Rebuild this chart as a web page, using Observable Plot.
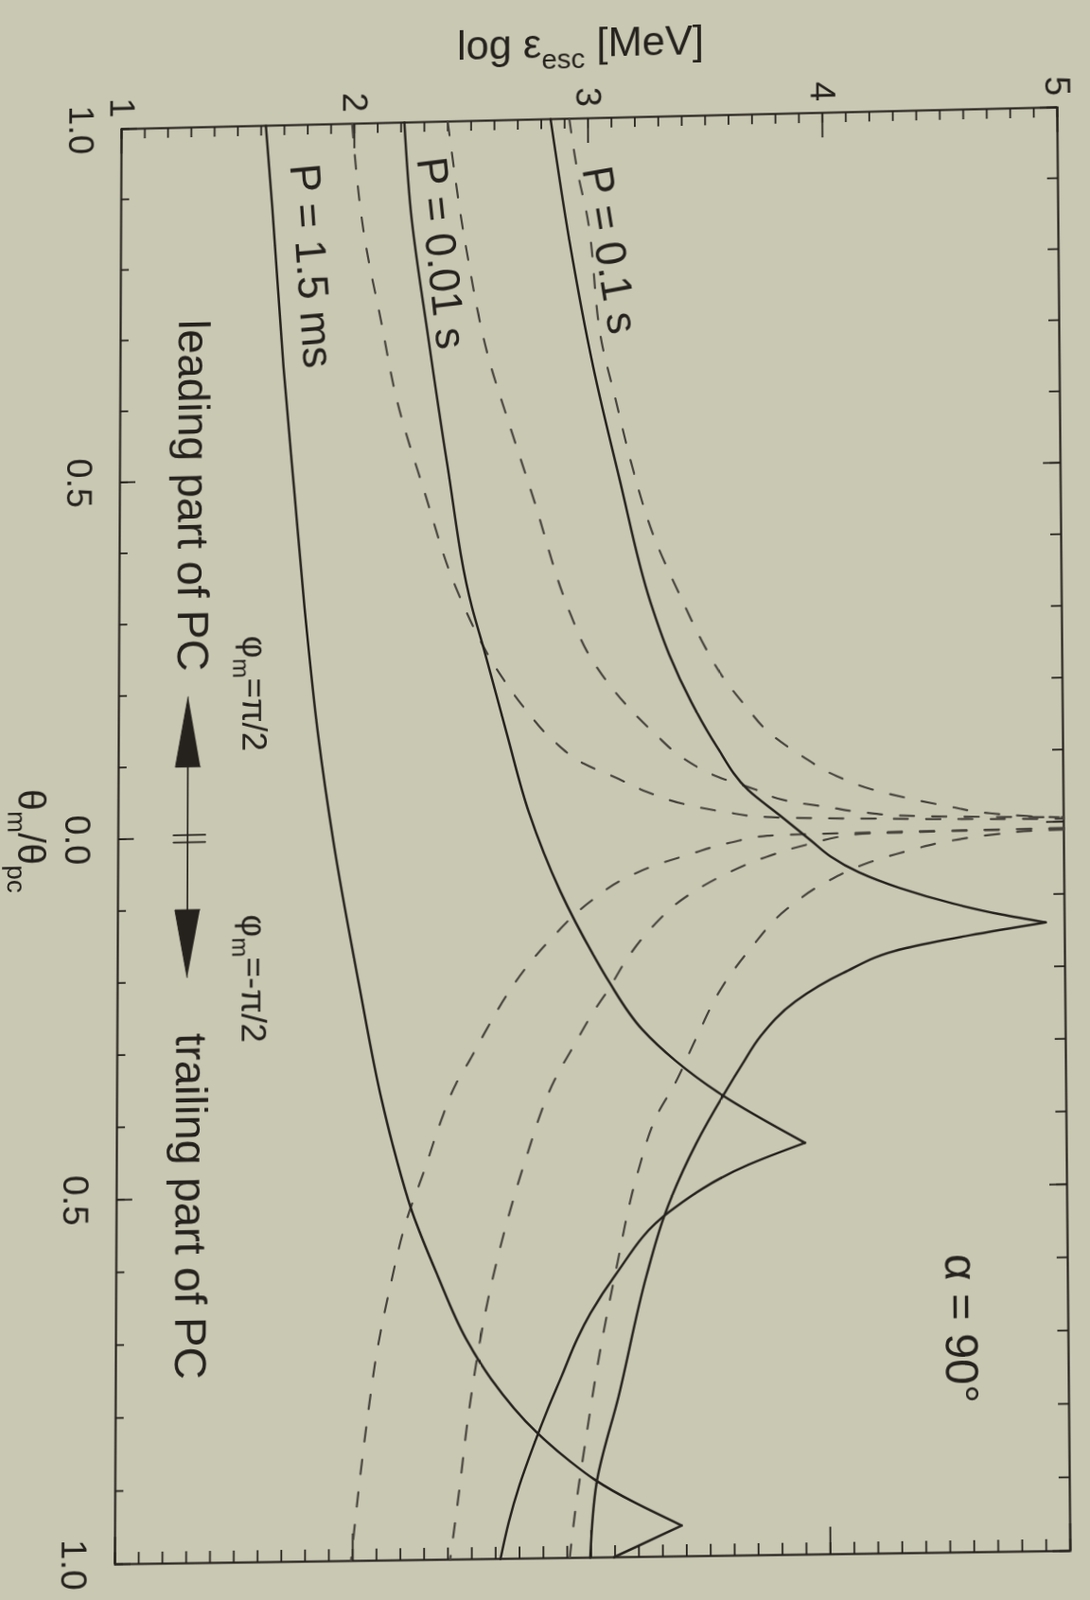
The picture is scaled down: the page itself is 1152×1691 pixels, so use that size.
<!DOCTYPE html>
<html><head><meta charset="utf-8">
<script src="https://cdn.jsdelivr.net/npm/d3@7"></script>
<script src="https://cdn.jsdelivr.net/npm/@observablehq/plot@0.6"></script>
<style>
html,body{margin:0;padding:0;background:#c9c8b3;overflow:hidden;}
#chart{position:absolute;left:0;top:0;}
#chart svg{display:block;}
</style></head><body><div id="chart"></div>
<script>
// ---------- data: [theta_m/theta_pc (signed: - leading, + trailing), log eps_esc] ----------
const P15_lead = [[-1,1.62],[-0.882,1.649],[-0.658,1.698],[-0.480,1.746],[-0.319,1.79],[-0.142,1.848],[0.012,1.916],[0.210,2.025],[0.368,2.12],[0.428,2.165],[0.524,2.25],[0.611,2.356],[0.698,2.475],[0.754,2.581],[0.828,2.772],[0.868,2.911],[0.894,3.016],[0.958,3.379]];
const P15_trail = [[0.958,3.379],[1.0,3.095]];
const P001_lead = [[-1,2.214],[-0.877,2.241],[-0.696,2.316],[-0.519,2.396],[-0.314,2.503],[-0.257,2.552],[-0.137,2.65],[-0.027,2.743],[0.084,2.876],[0.177,3.022],[0.211,3.082],[0.277,3.22],[0.321,3.36],[0.366,3.54],[0.437,3.903]];
const P001_trail = [[0.437,3.903],[0.466,3.664],[0.529,3.331],[0.614,3.105],[0.666,3.0],[0.70,2.945],[0.75,2.88],[0.80,2.815],[0.85,2.755],[0.90,2.70],[0.95,2.655],[1.0,2.62]];
const P01_lead = [[-1,2.84],[-0.826,2.92],[-0.648,3.02],[-0.491,3.13],[-0.317,3.26],[-0.243,3.339],[-0.176,3.432],[-0.114,3.538],[-0.052,3.671],[-0.016,3.804],[0.020,3.936],[0.042,4.016],[0.065,4.136],[0.088,4.309],[0.111,4.535],[0.127,4.734],[0.139,4.92]];
const P01_trail = [[0.139,4.92],[0.155,4.60],[0.171,4.333],[0.204,4.067],[0.242,3.866],[0.289,3.719],[0.328,3.64],[0.362,3.575],[0.436,3.445],[0.535,3.31],[0.616,3.235],[0.780,3.117],[0.899,3.023],[1.0,2.996]];

const D1 = [[-1,1.99],[-0.834,2.046],[-0.721,2.114],[-0.610,2.181],[-0.476,2.302],[-0.341,2.436],[-0.226,2.61],[-0.170,2.73],[-0.125,2.85],[-0.093,2.977],[-0.073,3.11],[-0.052,3.244],[-0.034,3.403],[-0.022,3.576],[-0.014,3.75],[-0.009,4.2],[-0.006,4.6],[-0.004,5.0]];
const D2 = [[-1,2.40],[-0.817,2.48],[-0.664,2.574],[-0.566,2.666],[-0.472,2.758],[-0.303,2.92],[-0.250,2.99],[-0.212,3.064],[-0.171,3.164],[-0.133,3.277],[-0.098,3.397],[-0.071,3.544],[-0.054,3.69],[-0.035,3.85],[-0.026,4.01],[-0.017,4.18],[-0.012,4.35],[-0.006,5.0]];
const D3 = [[-1,2.92],[-0.916,2.96],[-0.871,2.99],[-0.675,3.061],[-0.603,3.114],[-0.513,3.18],[-0.410,3.274],[-0.320,3.393],[-0.264,3.473],[-0.210,3.566],[-0.170,3.659],[-0.130,3.765],[-0.098,3.898],[-0.069,4.045],[-0.050,4.19],[-0.036,4.351],[-0.024,4.518],[-0.014,4.677],[-0.009,4.83],[-0.006,4.98]];
const D4 = [[0.009,5.0],[0.010,4.2],[0.012,3.75],[0.020,3.603],[0.035,3.43],[0.051,3.269],[0.072,3.122],[0.094,3.022],[0.111,2.955],[0.145,2.849],[0.184,2.742],[0.226,2.649],[0.270,2.569],[0.317,2.489],[0.347,2.435],[0.400,2.369],[0.464,2.303],[0.537,2.223],[0.625,2.157],[0.709,2.104],[0.796,2.065],[0.902,2.025],[1.0,1.993]];
const D5 = [[0.009,5.0],[0.010,4.6],[0.012,4.136],[0.024,3.936],[0.041,3.749],[0.066,3.562],[0.096,3.40],[0.134,3.268],[0.177,3.161],[0.220,3.08],[0.254,3.01],[0.293,2.94],[0.345,2.85],[0.453,2.728],[0.540,2.648],[0.627,2.581],[0.798,2.488],[0.904,2.448],[1.0,2.409]];
const D6 = [[0.011,5.0],[0.012,4.87],[0.016,4.708],[0.023,4.535],[0.035,4.362],[0.052,4.176],[0.077,4.002],[0.115,3.828],[0.167,3.68],[0.219,3.56],[0.292,3.445],[0.357,3.35],[0.390,3.29],[0.476,3.198],[0.606,3.108],[0.735,3.03],[0.842,2.977],[0.928,2.937],[1.0,2.91]];

// axes
const xMajor = [1,2,3,4,5];
const xTickLabels = ["1","2","3","4","5"];
const yMajor = [-1,-0.5,0,0.5,1];
const yTickLabels = ["1.0","0.5","0.0","0.5","1.0"];
const xMinor = d3.range(1,5.0001,0.1).map(v=>+v.toFixed(2));
const yMinor = d3.range(-1,1.0001,0.1).map(v=>+v.toFixed(2));
const titleX = "log ε_{esc} [MeV]";
const titleY = "θ_{m}/θ_{pc}";

// annotations
const curveLabels = ["P = 1.5 ms","P = 0.01 s","P = 0.1 s"];
const curveLabelE = [1.814, 2.37, 3.09];
const curveLabelT = [-0.80, -0.814, -0.813];
const sideLabels = ["leading part of PC","trailing part of PC"];
const sideLabelE = [1.31, 1.31];
const sideLabelT = [-0.48, 0.51];
const phiLabels = ["φ_{m}=π/2","φ_{m}=-π/2"];
const phiLabelE = [1.575, 1.575];
const phiLabelT = [-0.20, 0.197];
const alphaLabel = "α = 90°";
const alphaE = 4.55, alphaT = 0.695;
// arrow (theta, log eps)
const arrowShaft = [[-0.10,1.295],[0.10,1.295]];
const arrowHeadUp = [[-0.197,1.295],[-0.099,1.242],[-0.099,1.348]];
const arrowHeadDown = [[0.194,1.295],[0.10,1.242],[0.10,1.348]];
const arrowBars = [[[-0.004,1.235],[-0.004,1.37]],[[0.006,1.235],[0.006,1.37]]];

// ---------- build tables ----------
function rows(arr, seg){ return arr.map(([t,e])=>({t,e,seg})); }
const solid = [
  ...rows(P15_lead,"P15a"),...rows(P15_trail,"P15b"),
  ...rows(P001_lead,"P001a"),...rows(P001_trail,"P001b"),
  ...rows(P01_lead,"P01a"),...rows(P01_trail,"P01b")];
const dashed = [...rows(D1,"D1"),...rows(D2,"D2"),...rows(D3,"D3"),...rows(D4,"D4"),...rows(D5,"D5"),...rows(D6,"D6")];
const heads = [...rows(arrowHeadUp,"up"),...rows(arrowHeadDown,"down")];
const bars = arrowBars.flatMap((b,i)=>rows(b,"b"+i));

// ---------- layout ----------
const W=1152, H=1691;
const mL=125, mR=28, mT=125, mB=45;
const fw = W-mL-mR, fh = H-mT-mB;
const INK="#25211d", DASH="#47433d";
const FONT="'Liberation Sans', Arial, Helvetica, sans-serif";
const txt = {textAnchor: "middle", lineAnchor: "middle", fill: INK};

const plot = Plot.plot({
  width: W, height: H,
  marginLeft: mL, marginRight: mR, marginTop: mT, marginBottom: mB,
  style: {background: "none", color: INK, fontFamily: FONT},
  x: {domain: [1,5], axis: null},
  y: {domain: [-1,1], reverse: true, axis: null},
  marks: [
    // ticks (inward)
    Plot.tickX(xMinor, {x: d=>d, insetBottom: fh-11, stroke: INK, strokeWidth: 1.8}),
    Plot.tickX(xMajor, {x: d=>d, insetBottom: fh-27, stroke: INK, strokeWidth: 1.8}),
    Plot.tickX(xMinor, {x: d=>d, insetTop: fh-12, stroke: INK, strokeWidth: 1.8}),
    Plot.tickX(xMajor, {x: d=>d, insetTop: fh-28, stroke: INK, strokeWidth: 1.8}),
    Plot.tickY(yMinor, {y: d=>d, insetRight: fw-9, stroke: INK, strokeWidth: 1.8}),
    Plot.tickY(yMajor, {y: d=>d, insetRight: fw-17, stroke: INK, strokeWidth: 1.8}),
    Plot.tickY(yMinor, {y: d=>d, insetLeft: fw-11, stroke: INK, strokeWidth: 1.8}),
    Plot.tickY(yMajor, {y: d=>d, insetLeft: fw-18, stroke: INK, strokeWidth: 1.8}),
    Plot.frame({stroke: INK, strokeWidth: 2.2}),
    // tick labels
    Plot.text(xTickLabels, {x: (d,i)=>xMajor[i], text: d=>d, frameAnchor: "top", dy: -23, rotate: 90, fontSize: 38, ...txt}),
    Plot.text(yTickLabels, {y: (d,i)=>yMajor[i], text: d=>d, frameAnchor: "left", dx: -44, rotate: 90, fontSize: 38, ...txt}),
    // axis titles
    Plot.text([titleX], {text: d=>d, frameAnchor: "top", dy: -81, dx: -8, fontSize: 44, ...txt}),
    Plot.text([titleY], {text: d=>d, frameAnchor: "left", dx: -93, rotate: 90, fontSize: 41, ...txt}),
    // curves
    Plot.line(dashed, {x: "e", y: "t", z: "seg", stroke: DASH, strokeWidth: 2.2, strokeDasharray: "15,19", curve: "monotone-y"}),
    Plot.line(solid, {x: "e", y: "t", z: "seg", stroke: INK, strokeWidth: 2.5, curve: "monotone-y"}),
    // arrow
    Plot.line(rows(arrowShaft,"s"), {x: "e", y: "t", stroke: INK, strokeWidth: 1.7}),
    Plot.line(heads, {x: "e", y: "t", z: "seg", fill: INK, stroke: INK, strokeWidth: 1}),
    Plot.line(bars, {x: "e", y: "t", z: "seg", stroke: INK, strokeWidth: 1.7}),
    // annotations
    Plot.text([curveLabels[0]], {x: curveLabelE[0], y: curveLabelT[0], text: d=>d, rotate: 86, fontSize: 46, ...txt}),
    Plot.text([curveLabels[1]], {x: curveLabelE[1], y: curveLabelT[1], text: d=>d, rotate: 84, fontSize: 46, ...txt}),
    Plot.text([curveLabels[2]], {x: curveLabelE[2], y: curveLabelT[2], text: d=>d, rotate: 81, fontSize: 46, ...txt}),
    Plot.text(sideLabels, {x: (d,i)=>sideLabelE[i], y: (d,i)=>sideLabelT[i], text: d=>d, rotate: 90, fontSize: 47, ...txt}),
    Plot.text(phiLabels, {x: (d,i)=>phiLabelE[i], y: (d,i)=>phiLabelT[i], text: d=>d, rotate: 90, fontSize: 37, ...txt}),
    Plot.text([alphaLabel], {x: alphaE, y: alphaT, text: d=>d, rotate: 90, fontSize: 48, ...txt})
  ]
});

document.getElementById("chart").appendChild(plot);

// subscripts: turn "_{...}" into lowered, smaller tspans
plot.querySelectorAll("text").forEach(el => {
  const s = el.textContent;
  if (!s.includes("_{")) return;
  const fs = parseFloat(getComputedStyle(el).fontSize) || 38;
  const sh = 0.28*fs;
  el.textContent = "";
  let down = false;
  s.split(/(_\{[^}]*\})/).filter(p=>p).forEach(p => {
    const m = p.match(/^_\{(.*)\}$/);
    const ts = document.createElementNS("http://www.w3.org/2000/svg","tspan");
    if (m) { ts.textContent = m[1]; ts.setAttribute("font-size", (0.68*fs).toFixed(1)); ts.setAttribute("dy", sh.toFixed(1)); down = true; }
    else { ts.textContent = p; if (down) { ts.setAttribute("dy", (-sh).toFixed(1)); down = false; } }
    el.appendChild(ts);
  });
});

// photographed page: slight perspective, map the drawn frame onto the photographed frame corners
(function(){
  const src = [[mL,mT],[W-mR,mT],[W-mR,H-mB],[mL,H-mB]];
  const dst = [[128,136],[1117,113],[1131,1639],[121,1653]];
  const A=[], b=[];
  for (let i=0;i<4;i++){
    const [x,y]=src[i], [u,v]=dst[i];
    A.push([x,y,1,0,0,0,-u*x,-u*y]); b.push(u);
    A.push([0,0,0,x,y,1,-v*x,-v*y]); b.push(v);
  }
  const n=8;
  for (let c=0;c<n;c++){
    let p=c; for (let r=c+1;r<n;r++) if (Math.abs(A[r][c])>Math.abs(A[p][c])) p=r;
    [A[c],A[p]]=[A[p],A[c]]; [b[c],b[p]]=[b[p],b[c]];
    for (let r=0;r<n;r++){ if(r===c) continue; const f=A[r][c]/A[c][c]; if(!f) continue;
      for (let k=c;k<n;k++) A[r][k]-=f*A[c][k]; b[r]-=f*b[c]; }
  }
  const h = b.map((v,i)=>v/A[i][i]);
  if (h.every(Number.isFinite)) {
    plot.style.transformOrigin = "0 0";
    plot.style.transform = `matrix3d(${h[0]},${h[3]},0,${h[6]},${h[1]},${h[4]},0,${h[7]},0,0,1,0,${h[2]},${h[5]},0,1)`;
  }
})();
</script>
</body></html>
